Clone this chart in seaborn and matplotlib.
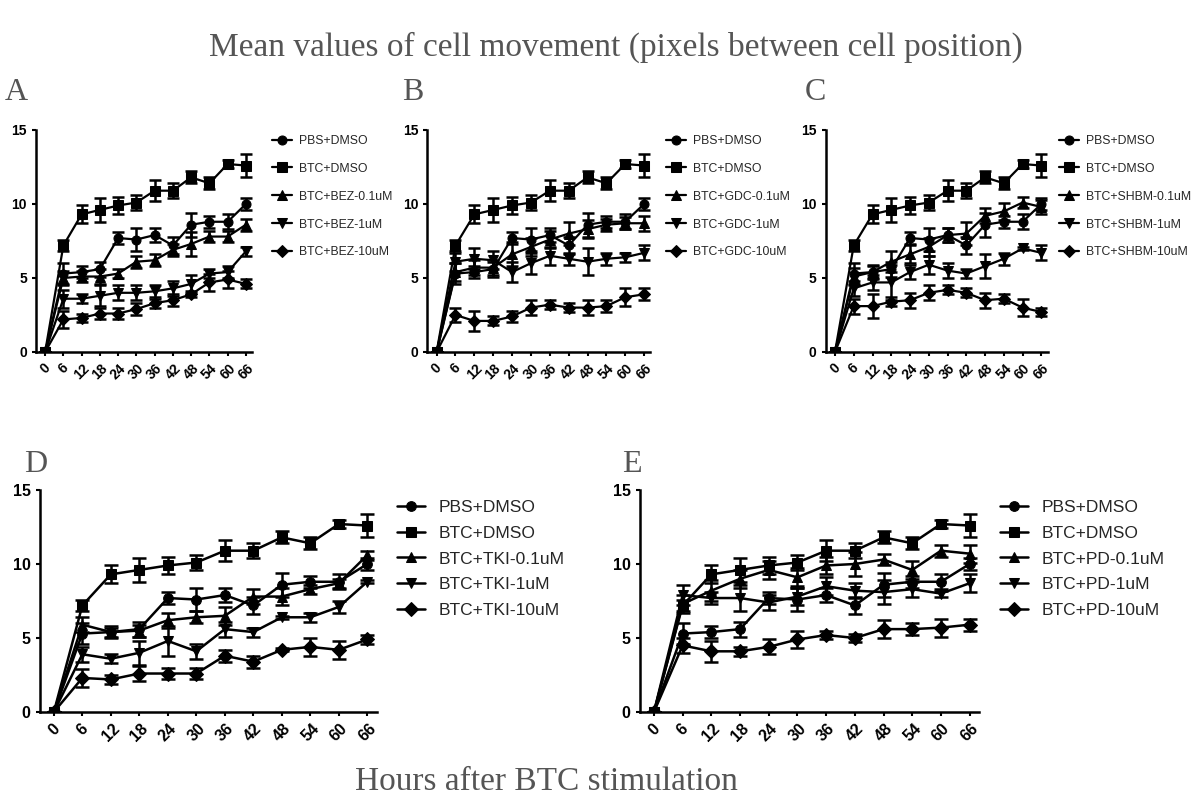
import numpy as np
import pandas as pd
import matplotlib
matplotlib.use("Agg")
import matplotlib.pyplot as plt
import seaborn as sns

hours = [0, 6, 12, 18, 24, 30, 36, 42, 48, 54, 60, 66]
hour_labels = [str(h) for h in hours]

pbs = [0, 5.3, 5.4, 5.6, 7.7, 7.6, 7.9, 7.2, 8.6, 8.8, 8.8, 10.0]
pbs_err = [0, 0.7, 0.4, 0.5, 0.4, 0.8, 0.5, 0.6, 0.8, 0.4, 0.5, 0.4]
btc = [0, 7.2, 9.3, 9.6, 9.9, 10.1, 10.9, 10.9, 11.8, 11.4, 12.7, 12.6]
btc_err = [0, 0.4, 0.6, 0.8, 0.6, 0.5, 0.7, 0.5, 0.4, 0.4, 0.3, 0.8]

bez_01 = [0, 5.0, 5.1, 5.1, 5.3, 6.1, 6.2, 6.9, 7.3, 7.8, 7.8, 8.6]
bez_01_err = [0, 0.5, 0.4, 0.5, 0.3, 0.4, 0.4, 0.4, 0.8, 0.4, 0.4, 0.4]
bez_1 = [0, 3.6, 3.6, 3.8, 4.0, 4.0, 4.1, 4.3, 4.6, 5.3, 5.4, 6.8]
bez_1_err = [0, 0.6, 0.3, 0.7, 0.5, 0.5, 0.4, 0.5, 0.6, 0.3, 0.4, 0.3]
bez_10 = [0, 2.2, 2.3, 2.6, 2.6, 2.9, 3.3, 3.5, 3.9, 4.7, 4.9, 4.6]
bez_10_err = [0, 0.6, 0.3, 0.4, 0.4, 0.4, 0.3, 0.4, 0.2, 0.6, 0.6, 0.3]

gdc_01 = [0, 5.4, 5.7, 5.7, 6.6, 7.1, 7.6, 8.0, 8.3, 8.6, 8.7, 8.7]
gdc_01_err = [0, 0.6, 0.5, 0.5, 0.8, 0.6, 0.6, 0.8, 0.6, 0.4, 0.4, 0.5]
gdc_1 = [0, 6.1, 6.3, 6.2, 5.4, 6.0, 6.5, 6.3, 6.1, 6.3, 6.4, 6.7]
gdc_1_err = [0, 0.6, 0.7, 0.6, 0.7, 0.7, 0.6, 0.4, 0.9, 0.4, 0.3, 0.5]
gdc_10 = [0, 2.5, 2.1, 2.1, 2.4, 3.0, 3.2, 3.0, 3.0, 3.1, 3.7, 3.9]
gdc_10_err = [0, 0.5, 0.7, 0.3, 0.4, 0.5, 0.3, 0.3, 0.5, 0.4, 0.6, 0.4]

shbm_01 = [0, 5.1, 5.4, 6.1, 6.6, 7.1, 7.9, 8.0, 9.2, 9.5, 10.1, 9.8]
shbm_01_err = [0, 0.6, 0.5, 0.7, 0.6, 0.6, 0.5, 0.8, 0.5, 0.6, 0.4, 0.5]
shbm_1 = [0, 4.3, 4.7, 4.7, 5.4, 5.9, 5.5, 5.3, 5.8, 6.3, 7.0, 6.7]
shbm_1_err = [0, 0.5, 0.5, 1.2, 0.5, 0.6, 0.5, 0.3, 0.8, 0.4, 0.1, 0.5]
shbm_10 = [0, 3.1, 3.1, 3.4, 3.5, 4.0, 4.2, 4.0, 3.5, 3.6, 3.0, 2.7]
shbm_10_err = [0, 0.5, 0.8, 0.3, 0.5, 0.5, 0.3, 0.3, 0.5, 0.3, 0.6, 0.3]

tki_01 = [0, 5.9, 5.4, 5.5, 6.2, 6.4, 6.5, 7.8, 7.8, 8.3, 8.7, 10.6]
tki_01_err = [0, 0.5, 0.3, 0.4, 0.5, 0.4, 0.6, 0.5, 0.6, 0.3, 0.3, 0.3]
tki_1 = [0, 3.9, 3.6, 4.0, 4.8, 4.1, 5.6, 5.4, 6.4, 6.4, 7.1, 8.8]
tki_1_err = [0, 0.5, 0.3, 0.8, 1.0, 0.5, 0.5, 0.3, 0.1, 0.3, 0.4, 0.1]
tki_10 = [0, 2.3, 2.2, 2.6, 2.6, 2.6, 3.8, 3.4, 4.2, 4.4, 4.2, 4.9]
tki_10_err = [0, 0.6, 0.3, 0.5, 0.4, 0.4, 0.4, 0.4, 0.1, 0.6, 0.6, 0.3]

pd_01 = [0, 7.3, 8.2, 9.0, 9.6, 9.1, 9.9, 10.0, 10.3, 9.6, 10.9, 10.7]
pd_01_err = [0, 0.6, 0.7, 0.6, 0.6, 0.6, 0.6, 0.8, 0.4, 0.6, 0.4, 0.6]
pd_1 = [0, 7.9, 7.7, 7.7, 7.4, 7.8, 8.5, 8.2, 8.1, 8.3, 8.0, 8.7]
pd_1_err = [0, 0.7, 0.4, 0.9, 0.5, 0.6, 0.6, 0.5, 0.8, 0.5, 0.2, 0.6]
pd_10 = [0, 4.5, 4.1, 4.1, 4.4, 4.9, 5.2, 5.0, 5.6, 5.6, 5.7, 5.9]
pd_10_err = [0, 0.5, 0.7, 0.3, 0.5, 0.6, 0.3, 0.3, 0.6, 0.4, 0.6, 0.4]

panels = [
    ("A", "BEZ", [bez_01, bez_1, bez_10], [bez_01_err, bez_1_err, bez_10_err]),
    ("B", "GDC", [gdc_01, gdc_1, gdc_10], [gdc_01_err, gdc_1_err, gdc_10_err]),
    ("C", "SHBM", [shbm_01, shbm_1, shbm_10], [shbm_01_err, shbm_1_err, shbm_10_err]),
    ("D", "TKI", [tki_01, tki_1, tki_10], [tki_01_err, tki_1_err, tki_10_err]),
    ("E", "PD", [pd_01, pd_1, pd_10], [pd_01_err, pd_1_err, pd_10_err]),
]

title_text = "Mean values of cell movement (pixels between cell position)"
xlabel_text = "Hours after BTC stimulation"

sns.set_theme(style="ticks")
plt.rcParams["font.family"] = ["Liberation Sans", "DejaVu Sans"]

fig = plt.figure(figsize=(12, 8), dpi=100)

positions = {
    "A": [0.030, 0.56, 0.180, 0.2775],
    "B": [0.356, 0.56, 0.186, 0.2775],
    "C": [0.688, 0.56, 0.185, 0.2775],
    "D": [0.033, 0.11, 0.281, 0.2775],
    "E": [0.533, 0.11, 0.283, 0.2775],
}
label_pos = {"A": (0.004, 0.875), "B": (0.335, 0.875), "C": (0.671, 0.875),
             "D": (0.020, 0.41), "E": (0.518, 0.41)}
legend_anchor = {"A": (1.07, 1.0), "B": (1.05, 1.0), "C": (1.03, 1.0)}

markers = ["o", "s", "^", "v", "D"]
gray = "#555555"

for letter, drug, vals, errs in panels:
    small = letter in "ABC"
    ax = fig.add_axes(positions[letter])
    names = ["PBS+DMSO", "BTC+DMSO", f"BTC+{drug}-0.1uM", f"BTC+{drug}-1uM", f"BTC+{drug}-10uM"]
    all_vals = [pbs, btc] + vals
    all_errs = [pbs_err, btc_err] + errs
    rows = []
    for n, v in zip(names, all_vals):
        for h, y in zip(hours, v):
            rows.append({"hour": h, "value": y, "group": n})
    df = pd.DataFrame(rows)
    ms = 6.5 if small else 7
    lw = 1.6 if small else 1.8
    sns.lineplot(data=df, x="hour", y="value", style="group", style_order=names,
                 markers=dict(zip(names, markers)), dashes=False, color="black",
                 markersize=ms, linewidth=lw, markeredgecolor="black", ax=ax)
    for v, e in zip(all_vals, all_errs):
        ax.errorbar(hours, v, yerr=e, fmt="none", ecolor="black",
                    elinewidth=1.8, capsize=4 if small else 5, capthick=1.8)
    ax.set_xlim(-3, 68)
    ax.set_ylim(0, 15)
    ax.set_xticks(hours)
    ax.set_xticklabels(hour_labels, rotation=45, ha="center")
    ax.set_yticks([0, 5, 10, 15])
    ax.set_xlabel("")
    ax.set_ylabel("")
    sns.despine(ax=ax)
    for sp in ["left", "bottom"]:
        ax.spines[sp].set_linewidth(1.8)
        ax.spines[sp].set_color("black")
    fs = 10 if small else 11.5
    ax.tick_params(axis="both", labelsize=fs, width=1.5, length=3, colors="black")
    for t in ax.get_xticklabels() + ax.get_yticklabels():
        t.set_fontweight("bold")
    if small:
        ax.legend(loc="upper left", bbox_to_anchor=legend_anchor[letter], frameon=False,
                  fontsize=8.8, handlelength=1.6, handletextpad=0.6,
                  labelspacing=1.3, borderaxespad=0.0)
    else:
        ax.legend(loc="upper left", bbox_to_anchor=(1.04, 0.985), frameon=False,
                  fontsize=12.5, handlelength=1.6, labelspacing=0.6, borderaxespad=0.0)
    lx, ly = label_pos[letter]
    fig.text(lx, ly, letter, fontsize=23, color=gray, family="Liberation Serif")

fig.text(0.513, 0.93, title_text, fontsize=24, color=gray, family="Liberation Serif", ha="center")
fig.text(0.455, 0.012, xlabel_text, fontsize=24, color=gray, family="Liberation Serif",
         ha="center", va="baseline")

fig.savefig("out.png", dpi=100)
